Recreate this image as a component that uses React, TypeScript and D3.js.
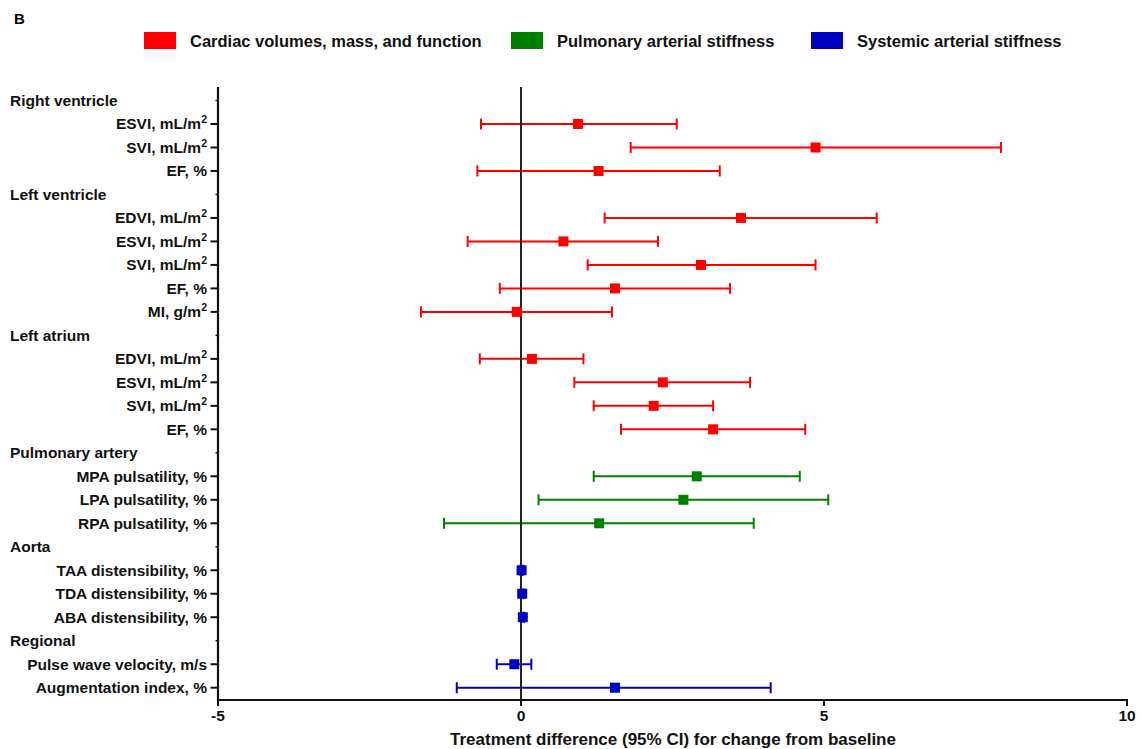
import React from 'react';
import * as d3 from 'd3';

// legend categories
const categoryNames = ['Cardiac volumes, mass, and function', 'Pulmonary arterial stiffness', 'Systemic arterial stiffness'];
const categoryColors = ['#ff0000', '#008000', '#0000c0'];

// row groups and measures
const groupNames = ['Right ventricle', 'Left ventricle', 'Left atrium', 'Pulmonary artery', 'Aorta', 'Regional'];
const measureNames = [
  'ESVI, mL/m^2', 'SVI, mL/m^2', 'EF, %',
  'EDVI, mL/m^2', 'ESVI, mL/m^2', 'SVI, mL/m^2', 'EF, %', 'MI, g/m^2',
  'EDVI, mL/m^2', 'ESVI, mL/m^2', 'SVI, mL/m^2', 'EF, %',
  'MPA pulsatility, %', 'LPA pulsatility, %', 'RPA pulsatility, %',
  'TAA distensibility, %', 'TDA distensibility, %', 'ABA distensibility, %',
  'Pulse wave velocity, m/s', 'Augmentation index, %',
];
const measureGroup = [0, 0, 0, 1, 1, 1, 1, 1, 2, 2, 2, 2, 3, 3, 3, 4, 4, 4, 5, 5];
const measureCategory = [0, 0, 0, 0, 0, 0, 0, 0, 0, 0, 0, 0, 1, 1, 1, 2, 2, 2, 2, 2];

// treatment difference and 95% CI
const estimate = [0.94, 4.86, 1.28, 3.63, 0.70, 2.97, 1.55, -0.07, 0.18, 2.34, 2.19, 3.17, 2.90, 2.68, 1.29, 0.01, 0.02, 0.03, -0.11, 1.55];
const lower = [-0.66, 1.81, -0.72, 1.38, -0.88, 1.10, -0.35, -1.65, -0.68, 0.88, 1.20, 1.65, 1.20, 0.29, -1.27, -0.01, 0.0, 0.01, -0.40, -1.06];
const upper = [2.57, 7.92, 3.28, 5.87, 2.26, 4.86, 3.45, 1.50, 1.03, 3.78, 3.17, 4.69, 4.60, 5.07, 3.84, 0.03, 0.04, 0.05, 0.17, 4.12];

const xTicks = [-5, 0, 5, 10];
const xTitle = 'Treatment difference (95% CI) for change from baseline';
const panelLabel = 'B';

const FONT = '"Liberation Sans", Arial, Helvetica, sans-serif';

type Row = { header: boolean; label: string; i: number };

const Label = ({ text }: { text: string }) => {
  // "^2" marks a superscript
  const parts = text.split('^');
  return (
    <>
      {parts[0]}
      {parts[1] && <tspan dy={-6} fontSize={10.5}>{parts[1]}</tspan>}
    </>
  );
};

export default function App() {
  const width = 1142;
  const height = 749;

  const rows: Row[] = [];
  groupNames.forEach((g, gi) => {
    rows.push({ header: true, label: g, i: -1 });
    measureNames.forEach((m, mi) => {
      if (measureGroup[mi] === gi) rows.push({ header: false, label: m, i: mi });
    });
  });

  const x = d3.scaleLinear().domain([-5, 10]).range([218, 1127]);
  const y = d3.scalePoint<number>()
    .domain(d3.range(rows.length))
    .range([100.5, 687.7]);

  const axisY = 700;
  const axisTop = 87;
  const capH = 5.5;
  const sq = 10;

  return (
    <div style={{ position: 'absolute', left: 0, top: 0 }}>
      <svg width={width} height={height} style={{ display: 'block', background: '#fff' }} fontFamily={FONT} fontWeight="bold">
        <text x={14} y={24} fontSize={15}>{panelLabel}</text>

        {/* legend */}
        {categoryNames.map((name, i) => {
          const lx = [144, 511, 811][i];
          return (
            <g key={name}>
              <rect x={lx} y={32} width={32} height={17} fill={categoryColors[i]} />
              <text x={lx + 46} y={47} fontSize={16.5} fill="#111">{name}</text>
            </g>
          );
        })}

        {/* y labels and ticks */}
        {rows.map((r, k) => {
          const yy = y(k) as number;
          return r.header ? (
            <g key={k}>
              <text x={10} y={yy} dy="0.35em" fontSize={15.5} fill="#111">{r.label}</text>
              <line x1={215.5} x2={218} y1={yy} y2={yy} stroke="#111" strokeWidth={1.5} />
            </g>
          ) : (
            <g key={k}>
              <text x={207} y={yy} dy="0.35em" fontSize={15.5} textAnchor="end" fill="#111">
                <Label text={r.label} />
              </text>
              <line x1={210.5} x2={218} y1={yy} y2={yy} stroke="#111" strokeWidth={2} />
            </g>
          );
        })}

        {/* error bars */}
        {rows.filter(r => !r.header).map(r => {
          const k = rows.indexOf(r);
          const yy = y(k) as number;
          const c = categoryColors[measureCategory[r.i]];
          return (
            <g key={'bar' + k} stroke={c} strokeWidth={2}>
              <line x1={x(lower[r.i])} x2={x(upper[r.i])} y1={yy} y2={yy} />
              <line x1={x(lower[r.i])} x2={x(lower[r.i])} y1={yy - capH} y2={yy + capH} />
              <line x1={x(upper[r.i])} x2={x(upper[r.i])} y1={yy - capH} y2={yy + capH} />
            </g>
          );
        })}

        {/* zero reference line */}
        <line x1={x(0)} x2={x(0)} y1={axisTop} y2={axisY} stroke="#222" strokeWidth={2} />

        {/* point estimates */}
        {rows.filter(r => !r.header).map(r => {
          const k = rows.indexOf(r);
          const yy = y(k) as number;
          return (
            <rect key={'pt' + k} x={x(estimate[r.i]) - sq / 2} y={yy - sq / 2} width={sq} height={sq}
              fill={categoryColors[measureCategory[r.i]]} />
          );
        })}

        {/* axes */}
        <line x1={218} x2={218} y1={axisTop} y2={axisY + 1} stroke="#111" strokeWidth={2.2} />
        <line x1={217} x2={1128} y1={axisY} y2={axisY} stroke="#111" strokeWidth={2.2} />
        {xTicks.map(t => (
          <g key={t}>
            <line x1={x(t)} x2={x(t)} y1={axisY} y2={axisY + 6} stroke="#111" strokeWidth={2} />
            <text x={x(t)} y={716} dy="0.35em" textAnchor="middle" fontSize={15.5} fill="#111">{t}</text>
          </g>
        ))}
        <text x={673} y={745} textAnchor="middle" fontSize={17} fill="#111">{xTitle}</text>
      </svg>
    </div>
  );
}
